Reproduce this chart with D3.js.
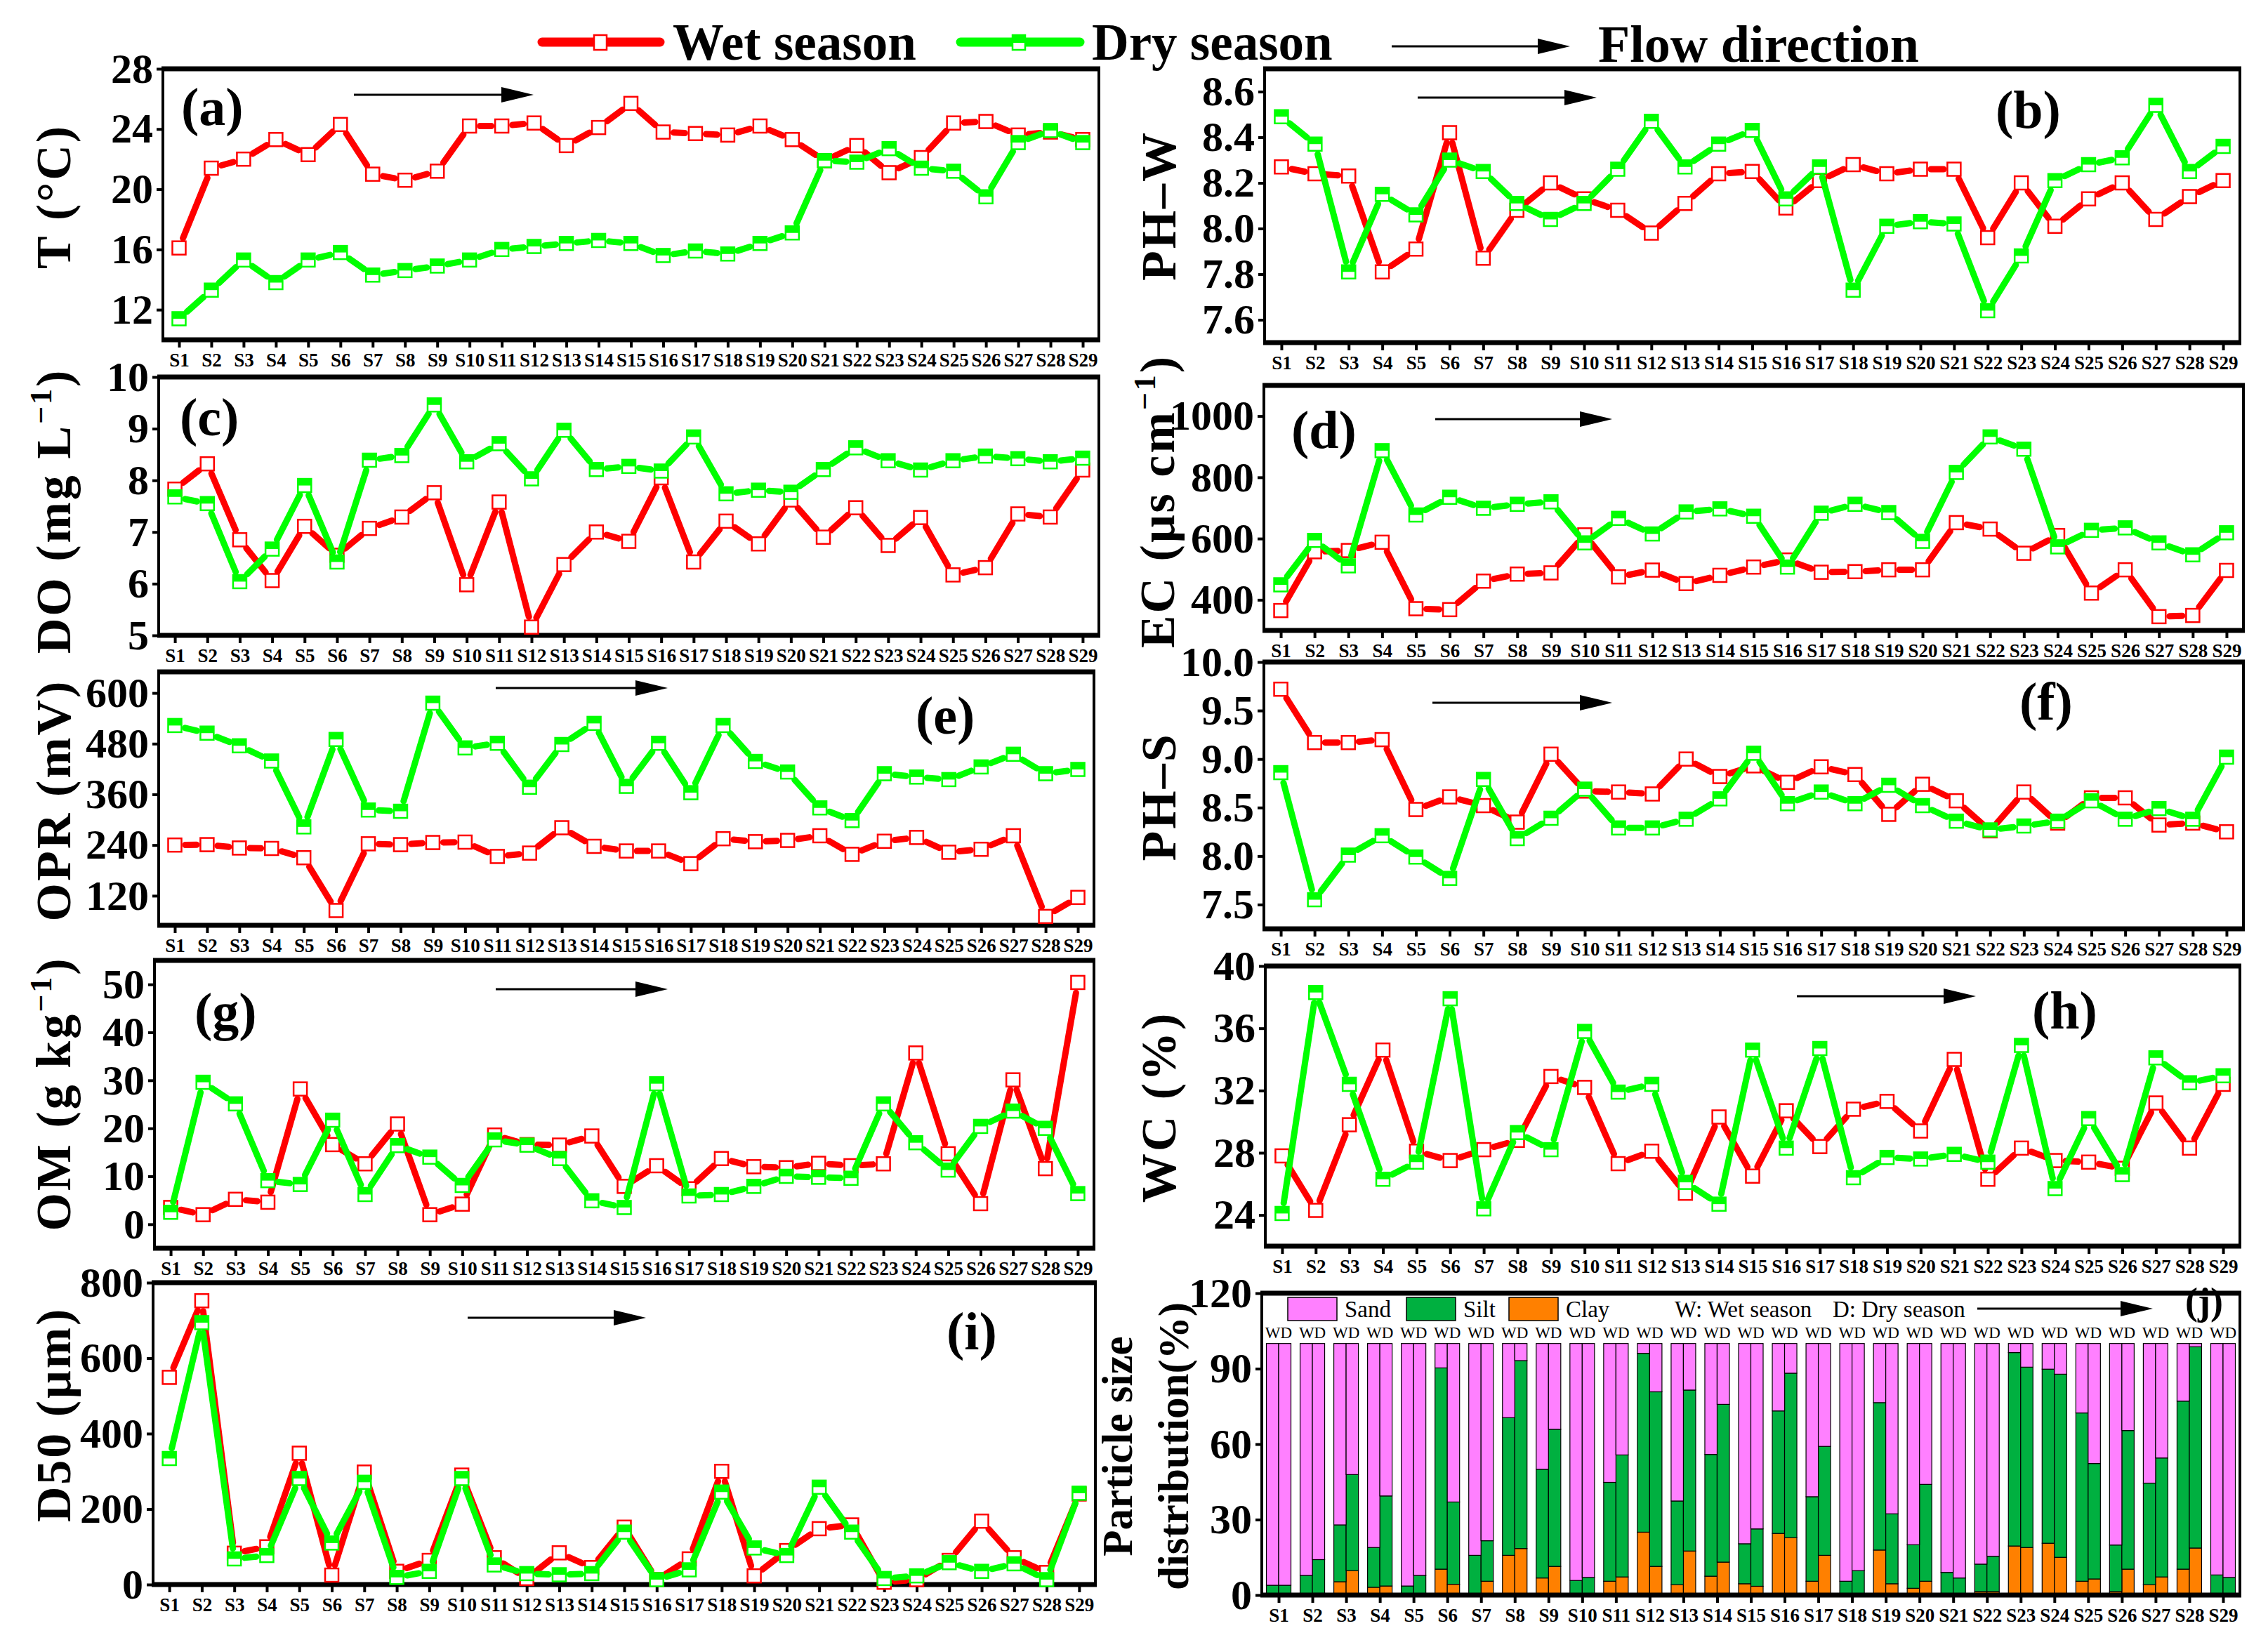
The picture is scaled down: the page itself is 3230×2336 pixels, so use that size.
<!DOCTYPE html>
<html lang='en'>
<head>
<meta charset='utf-8'>
<title>Water and sediment parameters along the river, wet vs dry season</title>
<script src="https://d3js.org/d3.v7.min.js" charset='utf-8'></script>
<style>
    body { margin: 0; background: #fff; }
    svg { display: block; }
</style>
</head>
<body>
<script>
var sites = ['S1','S2','S3','S4','S5','S6','S7','S8','S9','S10','S11','S12','S13','S14','S15',
             'S16','S17','S18','S19','S20','S21','S22','S23','S24','S25','S26','S27','S28','S29'];

// (a) water temperature
var tWet = [16.1,21.4,22.0,23.3,22.3,24.3,21.0,20.6,21.2,24.2,24.2,24.4,22.9,24.1,25.7,23.8,23.7,23.6,24.2,23.3,21.9,22.9,21.1,22.1,24.4,24.5,23.6,23.8,23.3];
var tDry = [11.4,13.3,15.3,13.8,15.3,15.8,14.3,14.6,14.9,15.3,16.0,16.2,16.4,16.6,16.4,15.6,15.9,15.7,16.4,17.1,21.9,21.8,22.7,21.4,21.2,19.5,23.1,23.9,23.1];
// (b) pH of water
var phwWet = [8.27,8.24,8.23,7.81,7.91,8.42,7.87,8.08,8.20,8.13,8.08,7.98,8.11,8.24,8.25,8.09,8.21,8.28,8.24,8.26,8.26,7.96,8.20,8.01,8.13,8.20,8.04,8.14,8.21];
var phwDry = [8.49,8.37,7.81,8.15,8.06,8.30,8.25,8.11,8.04,8.11,8.26,8.47,8.27,8.37,8.43,8.13,8.27,7.73,8.01,8.03,8.02,7.64,7.88,8.21,8.28,8.31,8.54,8.25,8.36];
// (c) dissolved oxygen
var doWet = [7.83,8.32,6.85,6.06,7.11,6.55,7.07,7.29,7.76,5.98,7.58,5.16,6.37,7.0,6.82,8.05,6.42,7.21,6.77,7.62,6.9,7.47,6.74,7.28,6.17,6.31,7.35,7.29,8.2];
var doDry = [7.68,7.55,6.04,6.67,7.9,6.42,8.39,8.48,9.46,8.36,8.71,8.03,8.97,8.21,8.27,8.18,8.84,7.74,7.81,7.77,8.21,8.63,8.38,8.2,8.38,8.47,8.42,8.36,8.43];
// (d) conductivity
var ecWet = [365,557,561,588,371,368,461,484,488,612,475,497,453,480,507,530,490,492,498,498,652,631,552,610,422,498,345,349,496];
var ecDry = [449,594,511,887,677,735,699,712,720,586,666,615,687,697,673,507,683,712,685,591,816,932,892,573,627,635,586,547,619];
// (e) redox potential
var oprWet = [240,241,233,232,210,85,243,241,246,247,213,221,281,237,226,226,196,255,248,251,262,218,249,258,223,230,262,71,116];
var oprDry = [523,505,475,439,283,490,323,320,576,470,481,377,478,528,379,481,364,523,438,413,328,298,409,401,395,425,455,409,419];
// (f) pH of sediment
var phsWet = [9.72,9.17,9.17,9.2,8.48,8.61,8.52,8.35,9.05,8.67,8.66,8.64,9.0,8.82,8.93,8.76,8.92,8.84,8.43,8.74,8.57,8.26,8.66,8.34,8.6,8.6,8.32,8.34,8.25];
var phsDry = [8.86,7.55,8.01,8.21,7.99,7.77,8.79,8.18,8.39,8.69,8.29,8.29,8.38,8.59,9.06,8.54,8.66,8.54,8.73,8.52,8.36,8.27,8.31,8.36,8.57,8.38,8.49,8.38,9.02];
// (g) organic matter
var omWet = [3.5,2.0,5.2,4.6,28.2,16.6,12.6,20.9,2.0,4.2,18.6,16.6,16.5,18.4,7.9,12.2,7.4,13.7,12.0,11.8,12.7,12.2,12.6,35.7,14.7,4.3,30.1,11.6,50.4];
var omDry = [2.5,29.6,25.1,9.1,8.3,21.7,6.2,16.4,14.0,8.1,17.6,16.5,13.7,4.9,3.5,29.3,5.9,6.2,7.9,10.0,9.8,9.6,25.1,17.0,11.3,20.4,23.6,20.0,6.4];
// (h) water content
var wcWet = [27.8,24.3,29.8,34.6,28.1,27.5,28.2,28.8,32.9,32.2,27.3,28.1,25.4,30.3,26.5,30.7,28.4,30.8,31.3,29.4,34.0,26.3,28.3,27.5,27.4,27.0,31.2,28.3,32.4];
var wcDry = [24.1,38.3,32.4,26.3,27.4,37.9,24.4,29.3,28.2,35.8,31.9,32.4,26.1,24.7,34.6,28.3,34.7,26.4,27.7,27.6,27.9,27.4,34.9,25.7,30.2,26.6,34.1,32.5,32.95];
// (i) median grain size
var d50Wet = [549,752,83,100,348,25,298,35,64,290,71,16,84,45,152,13,68,300,23,90,148,158,6,13,64,168,71,32,240];
var d50Dry = [334,694,68,77,281,110,271,19,35,281,52,29,26,29,139,13,39,245,97,77,258,139,16,23,58,35,55,13,242];
// (j) particle size distribution (%)
var clayWet = [0,0,5.3,3.1,0,10.3,0,15.8,6.8,0,5.5,25.0,4.1,7.5,4.5,24.5,5.5,0,17.9,2.7,0,1.4,19.5,20.6,5.5,1.4,4.1,10.3,0];
var siltWet = [3.9,7.8,22.6,15.8,3.6,80.0,15.8,54.7,43.2,5.8,39.3,71.1,33.3,48.4,15.9,48.7,33.6,5.5,58.6,17.3,9.0,10.9,76.9,69.2,66.9,18.5,40.4,66.8,8.0];
var sandWet = [96.1,92.2,72.1,81.1,96.4,9.7,84.2,29.5,50.0,94.2,55.2,3.9,62.6,44.1,79.6,26.8,60.9,94.5,23.5,80.0,91.0,87.7,3.6,10.2,27.6,80.1,55.5,22.9,92.0];
var clayDry = [0,0.7,9.7,3.6,0,4.3,5.5,18.5,11.4,0,7.2,11.4,17.5,13.1,3.5,22.8,15.8,0,4.5,5.5,0,1.4,18.9,15.0,6.4,10.3,7.2,18.7,0];
var siltDry = [3.9,13.4,38.2,35.8,7.8,32.7,16.1,74.7,54.5,7.0,48.5,69.4,64.0,62.7,22.8,65.4,43.3,9.7,27.8,38.5,6.8,14.0,71.7,72.8,45.9,55.1,47.3,80.0,7.0];
var sandDry = [96.1,85.9,52.1,60.6,92.2,63.0,78.4,6.8,34.1,93.0,44.3,19.2,18.5,24.2,73.7,11.8,40.9,90.3,67.7,56.0,93.2,84.6,9.4,12.2,47.7,34.6,45.5,1.3,93.0];

var sizeKeys = ['clay', 'silt', 'sand'];
var sizeNames = ['Sand', 'Silt', 'Clay'];
var sizeColors = {clay: '#ff8000', silt: '#00b040', sand: '#ff80ff'};

var FONT = "'Liberation Serif', 'Times New Roman', serif";
var RED = '#ff0000', GREEN = '#00ff00';

var svg = d3.select('body').append('svg')
    .attr('width', 3230)
    .attr('height', 2336);
svg.append('rect')
    .attr('width', 3230)
    .attr('height', 2336)
    .attr('fill', '#fff');

function arrow(x0, x1, y) {
    svg.append('line')
        .attr('x1', x0).attr('y1', y)
        .attr('x2', x1 - 44).attr('y2', y)
        .attr('stroke', '#000').attr('stroke-width', 3);
    svg.append('polygon')
        .attr('points', (x1 - 46) + ',' + (y - 11) + ' ' + x1 + ',' + y + ' ' + (x1 - 46) + ',' + (y + 11))
        .attr('fill', '#000');
}

function frame(g, box) {
    var x0 = box[0], y0 = box[1], x1 = box[2], y1 = box[3];
    g.append('rect')
        .attr('x', x0).attr('y', y0)
        .attr('width', x1 - x0).attr('height', y1 - y0)
        .attr('fill', 'none').attr('stroke', '#000').attr('stroke-width', 4);
    [y0, y1].forEach(function(yy) {
        g.append('line')
            .attr('x1', x0 - 2).attr('x2', x1 + 2)
            .attr('y1', yy).attr('y2', yy)
            .attr('stroke', '#000').attr('stroke-width', 7);
    });
}

function axes(g, x, y, box, ticks, fmt) {
    var ya = g.append('g')
        .attr('transform', 'translate(' + box[0] + ',0)')
        .call(d3.axisLeft(y).tickValues(ticks).tickSize(9).tickPadding(5).tickFormat(d3.format(fmt)));
    ya.select('.domain').remove();
    ya.selectAll('line').attr('stroke-width', 4);
    ya.selectAll('text')
        .attr('font-family', FONT).attr('font-weight', 'bold').attr('font-size', 60);

    var xa = g.append('g')
        .attr('transform', 'translate(0,' + box[3] + ')')
        .call(d3.axisBottom(x).tickSize(11).tickPadding(8));
    xa.select('.domain').remove();
    xa.selectAll('line').attr('stroke-width', 4);
    xa.selectAll('text')
        .attr('font-family', FONT).attr('font-weight', 'bold').attr('font-size', 27);
}

function yTitle(t, x, cy) {
    var txt = svg.append('text')
        .attr('transform', 'translate(' + x + ',' + cy + ') rotate(-90)')
        .attr('text-anchor', 'middle')
        .attr('font-family', FONT).attr('font-weight', 'bold')
        .attr('font-size', 70).attr('letter-spacing', 3);
    txt.append('tspan').text(t[0]);
    if (t.length > 1) {
        txt.append('tspan').attr('dy', -27).attr('font-size', 44).text(t[1]);
        txt.append('tspan').attr('dy', 27).text(t[2]);
    }
}

function series(g, x, y, vals, color, half) {
    var pts = sites.map(function(s, i) { return [x(s), y(vals[i])]; });
    var gap = 15;
    for (var i = 0; i < pts.length - 1; i++) {
        var p = pts[i], q = pts[i + 1];
        var dx = q[0] - p[0], dy = q[1] - p[1];
        var len = Math.sqrt(dx * dx + dy * dy);
        if (len <= 2 * gap + 1) continue;
        var ux = dx / len, uy = dy / len;
        g.append('line')
            .attr('x1', p[0] + ux * gap).attr('y1', p[1] + uy * gap)
            .attr('x2', q[0] - ux * gap).attr('y2', q[1] - uy * gap)
            .attr('stroke', color).attr('stroke-width', 9)
            .attr('stroke-linecap', 'round');
    }
    var m = g.selectAll(null).data(pts).enter().append('g');
    m.append('rect')
        .attr('x', function(d) { return d[0] - 9.5; })
        .attr('y', function(d) { return d[1] - 9.5; })
        .attr('width', 19).attr('height', 19)
        .attr('fill', '#fff').attr('stroke', color).attr('stroke-width', 2.5);
    if (half) {
        m.append('rect')
            .attr('x', function(d) { return d[0] - 9.5; })
            .attr('y', function(d) { return d[1] - 9.5; })
            .attr('width', 19).attr('height', 9.5)
            .attr('fill', color);
    }
}

var panels = [
    {wet: tWet, dry: tDry, domain: [10, 28], ticks: [12, 16, 20, 24, 28], fmt: 'd',
     box: [232, 98, 1565, 484], title: ['T (°C)'], tx: 100, ty: 280,
     letter: '(a)', lx: 258, ly: 178, arrow: [504, 760, 135]},
    {wet: phwWet, dry: phwDry, domain: [7.5, 8.7], ticks: [7.6, 7.8, 8.0, 8.2, 8.4, 8.6], fmt: '.1f',
     box: [1801, 98, 3190, 488], title: ['PH–W'], tx: 1674, ty: 293,
     letter: '(b)', lx: 2842, ly: 182, arrow: [2019, 2274, 139]},
    {wet: doWet, dry: doDry, domain: [5, 10], ticks: [5, 6, 7, 8, 9, 10], fmt: 'd',
     box: [226, 537, 1565, 905], title: ['DO (mg L', '−1', ')'], tx: 100, ty: 728,
     letter: '(c)', lx: 256, ly: 620, arrow: null},
    {wet: ecWet, dry: ecDry, domain: [300, 1100], ticks: [400, 600, 800, 1000], fmt: 'd',
     box: [1800, 549, 3195, 898], title: ['EC (μs cm', '−1', ')'], tx: 1672, ty: 714,
     letter: '(d)', lx: 1839, ly: 638, arrow: [2044, 2296, 597]},
    {wet: oprWet, dry: oprDry, domain: [50, 650], ticks: [120, 240, 360, 480, 600], fmt: 'd',
     box: [226, 957, 1558, 1318], title: ['OPR (mV)'], tx: 100, ty: 1140,
     letter: '(e)', lx: 1304, ly: 1045, arrow: [706, 951, 980]},
    {wet: phsWet, dry: phsDry, domain: [7.25, 10], ticks: [7.5, 8.0, 8.5, 9.0, 9.5, 10.0], fmt: '.1f',
     box: [1800, 943, 3195, 1323], title: ['PH–S'], tx: 1674, ty: 1135,
     letter: '(f)', lx: 2876, ly: 1025, arrow: [2040, 2296, 1001]},
    {wet: omWet, dry: omDry, domain: [-5, 55], ticks: [0, 10, 20, 30, 40, 50], fmt: 'd',
     box: [220, 1368, 1558, 1778], title: ['OM (g kg', '−1', ')'], tx: 100, ty: 1558,
     letter: '(g)', lx: 277, ly: 1467, arrow: [706, 951, 1409]},
    {wet: wcWet, dry: wcDry, domain: [22, 40], ticks: [24, 28, 32, 36, 40], fmt: 'd',
     box: [1802, 1376, 3190, 1775], title: ['WC (%)'], tx: 1674, ty: 1577,
     letter: '(h)', lx: 2894, ly: 1465, arrow: [2559, 2814, 1419]},
    {wet: d50Wet, dry: d50Dry, domain: [0, 800], ticks: [0, 200, 400, 600, 800], fmt: 'd',
     box: [218, 1827, 1560, 2257], title: ['D50 (μm)'], tx: 100, ty: 2015,
     letter: '(i)', lx: 1348, ly: 1922, arrow: [666, 920, 1877]}
];

panels.forEach(function(p) {
    var b = p.box;
    var x = d3.scalePoint().domain(sites).range([b[0], b[2]]).padding(0.5);
    var y = d3.scaleLinear().domain(p.domain).range([b[3], b[1]]);
    var g = svg.append('g');
    frame(g, b);
    axes(g, x, y, b, p.ticks, p.fmt);
    series(g, x, y, p.wet, RED, false);
    series(g, x, y, p.dry, GREEN, true);
    yTitle(p.title, p.tx, p.ty);
    svg.append('text')
        .attr('x', p.lx).attr('y', p.ly)
        .attr('font-family', FONT).attr('font-weight', 'bold').attr('font-size', 76)
        .text(p.letter);
    if (p.arrow) arrow(p.arrow[0], p.arrow[1], p.arrow[2]);
});

// (j) particle size stacked bars
var jBox = [1797, 1842, 3190, 2272];
var xj = d3.scalePoint().domain(sites).range([jBox[0], jBox[2]]).padding(0.5);
var yj = d3.scaleLinear().domain([0, 120]).range([jBox[3], jBox[1]]);
var sub = d3.scaleBand().domain(['W', 'D']).range([-17.5, 17.5]);
var rows = [];
sites.forEach(function(s, i) {
    rows.push({site: s, season: 'W', clay: clayWet[i], silt: siltWet[i], sand: sandWet[i]});
    rows.push({site: s, season: 'D', clay: clayDry[i], silt: siltDry[i], sand: sandDry[i]});
});
var stack = d3.stack().keys(sizeKeys)(rows);
var gj = svg.append('g');
gj.selectAll('g.layer').data(stack).enter().append('g')
    .attr('class', 'layer')
    .attr('fill', function(d) { return sizeColors[d.key]; })
    .selectAll('rect').data(function(d) { return d; }).enter().append('rect')
    .attr('x', function(d) { return xj(d.data.site) + sub(d.data.season); })
    .attr('width', sub.bandwidth())
    .attr('y', function(d) { return yj(d[1]); })
    .attr('height', function(d) { return yj(d[0]) - yj(d[1]); })
    .attr('stroke', '#000').attr('stroke-width', 1.2);
gj.selectAll('text.wd').data(sites).enter().append('text')
    .attr('class', 'wd')
    .attr('x', function(d) { return xj(d); })
    .attr('y', 1906)
    .attr('text-anchor', 'middle')
    .attr('font-family', FONT).attr('font-size', 23)
    .text('WD');
frame(gj, jBox);
axes(gj, xj, yj, jBox, [0, 30, 60, 90, 120], 'd');

// (j) legend
var legX = [1834, 2003, 2149];
['sand', 'silt', 'clay'].forEach(function(k, i) {
    svg.append('rect')
        .attr('x', legX[i]).attr('y', 1848)
        .attr('width', 70).attr('height', 33)
        .attr('fill', sizeColors[k]).attr('stroke', '#000').attr('stroke-width', 1.5);
    svg.append('text')
        .attr('x', legX[i] + 81).attr('y', 1876)
        .attr('font-family', FONT).attr('font-size', 33)
        .text(sizeNames[i]);
});
svg.append('text').attr('x', 2385).attr('y', 1876)
    .attr('font-family', FONT).attr('font-size', 33).text('W: Wet season');
svg.append('text').attr('x', 2610).attr('y', 1876)
    .attr('font-family', FONT).attr('font-size', 33).text('D: Dry season');
arrow(2816, 3066, 1864);
svg.append('text').attr('x', 3112).attr('y', 1872)
    .attr('font-family', FONT).attr('font-weight', 'bold').attr('font-size', 54).text('(j)');
[['Particle size', 1612], ['distribution(%)', 1692]].forEach(function(l) {
    svg.append('text')
        .attr('transform', 'translate(' + l[1] + ',2060) rotate(-90)')
        .attr('text-anchor', 'middle')
        .attr('font-family', FONT).attr('font-weight', 'bold').attr('font-size', 61)
        .text(l[0]);
});

// top legend
function legendItem(x0, x1, mx, color, half, label, tx) {
    svg.append('line')
        .attr('x1', x0).attr('x2', x1).attr('y1', 60).attr('y2', 60)
        .attr('stroke', color).attr('stroke-width', 13).attr('stroke-linecap', 'round');
    svg.append('rect')
        .attr('x', mx - 9).attr('y', 50).attr('width', 18).attr('height', 21)
        .attr('fill', '#fff').attr('stroke', color).attr('stroke-width', 2.5);
    if (half) {
        svg.append('rect')
            .attr('x', mx - 9).attr('y', 50).attr('width', 18).attr('height', 11)
            .attr('fill', color);
    }
    svg.append('text')
        .attr('x', tx).attr('y', 85)
        .attr('font-family', FONT).attr('font-weight', 'bold').attr('font-size', 73)
        .text(label);
}
legendItem(772, 940, 855, RED, false, 'Wet season', 958);
legendItem(1368, 1538, 1451, GREEN, true, 'Dry season', 1555);
arrow(1982, 2236, 66);
svg.append('text')
    .attr('x', 2276).attr('y', 88)
    .attr('font-family', FONT).attr('font-weight', 'bold').attr('font-size', 74)
    .text('Flow direction');
</script>
</body>
</html>
